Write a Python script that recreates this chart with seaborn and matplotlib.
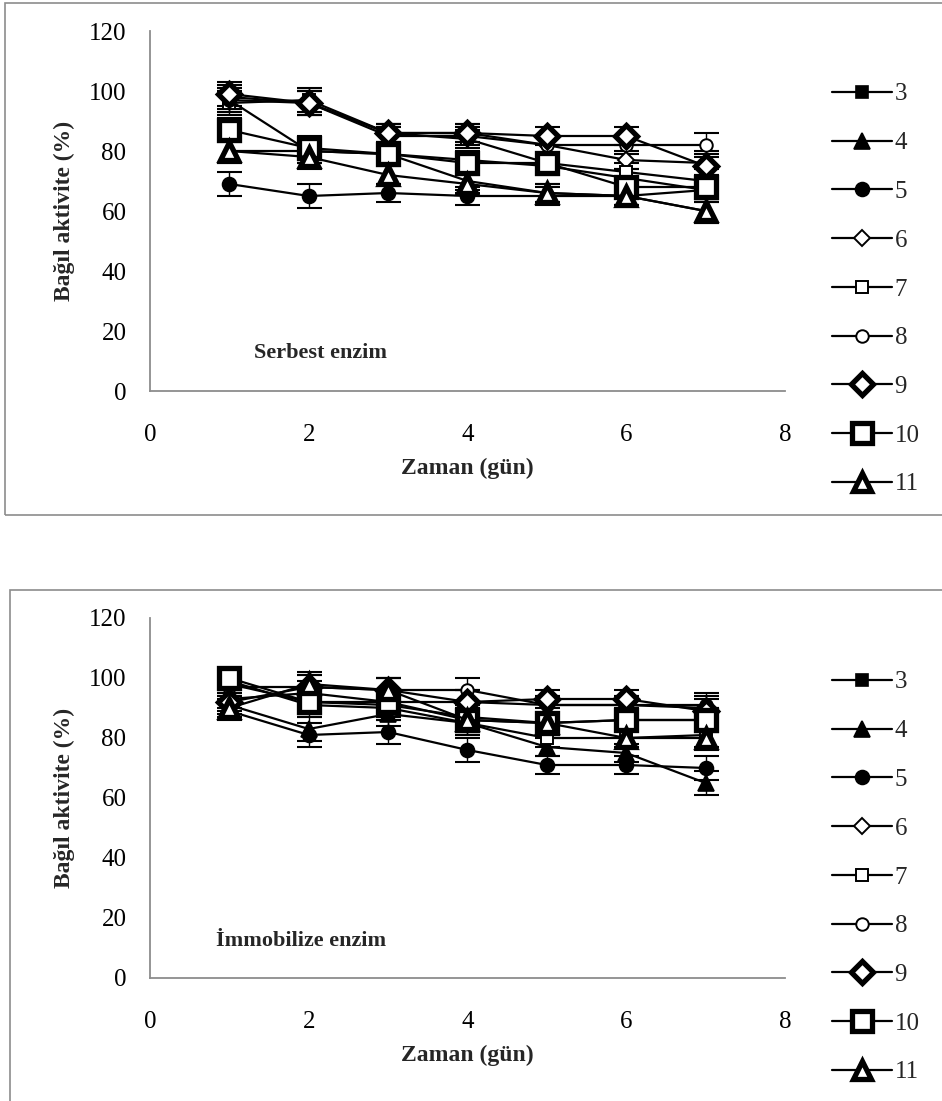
import numpy as np
import pandas as pd
import matplotlib
matplotlib.use("Agg")
import matplotlib.pyplot as plt
from matplotlib.patches import Rectangle
import seaborn as sns

days = [1, 2, 3, 4, 5, 6, 7]
series_names = ["3", "4", "5", "6", "7", "8", "9", "10", "11"]

# Serbest enzim
free_3 = [97, 80, 79, 77, 75, 71, 67]
free_4 = [80, 80, 79, 70, 66, 65, 60]
free_5 = [69, 65, 66, 65, 65, 65, 67]
free_6 = [98, 96, 85, 85, 82, 77, 76]
free_7 = [96, 97, 86, 84, 76, 73, 70]
free_8 = [97, 96, 86, 86, 82, 82, 82]
free_9 = [99, 96, 86, 86, 85, 85, 75]
free_10 = [87, 81, 79, 76, 76, 68, 68]
free_11 = [80, 78, 72, 69, 66, 65, 60]
free_err = [4, 4, 3, 3, 3, 3, 4]

# İmmobilize enzim
imm_3 = [98, 92, 91, 87, 85, 86, 86]
imm_4 = [91, 83, 88, 85, 77, 75, 65]
imm_5 = [89, 81, 82, 76, 71, 71, 70]
imm_6 = [93, 95, 92, 92, 91, 91, 90]
imm_7 = [99, 91, 90, 85, 80, 80, 81]
imm_8 = [97, 97, 96, 96, 91, 91, 91]
imm_9 = [92, 97, 96, 92, 93, 93, 89]
imm_10 = [100, 92, 92, 86, 85, 86, 86]
imm_11 = [90, 98, 96, 86, 85, 80, 80]
imm_err = [3, 4, 4, 4, 3, 3, 4]

free = [free_3, free_4, free_5, free_6, free_7, free_8, free_9, free_10, free_11]
imm = [imm_3, imm_4, imm_5, imm_6, imm_7, imm_8, imm_9, imm_10, imm_11]

styles = {
    "3": dict(marker="s", ms=9, mfc="black", mew=1.2),
    "4": dict(marker="^", ms=12, mfc="black", mew=1.2),
    "5": dict(marker="o", ms=10, mfc="black", mew=1.2),
    "6": dict(marker="D", ms=8, mfc="white", mew=1.4),
    "7": dict(marker="s", ms=9, mfc="white", mew=1.4),
    "8": dict(marker="o", ms=9, mfc="white", mew=1.4),
    "9": dict(marker="D", ms=11, mfc="white", mew=3.8),
    "10": dict(marker="s", ms=14, mfc="white", mew=3.8),
    "11": dict(marker="^", ms=13, mfc="white", mew=3.8),
}

sns.set_style("white")
plt.rcParams["font.family"] = ["Liberation Serif", "DejaVu Serif"]

fig = plt.figure(figsize=(9.42, 11.01), dpi=100)

# chart frames
gray = "#8c8c8c"
fig.patches.append(Rectangle((5 / 942, 1 - 515 / 1101), 1.2, 512 / 1101,
                             transform=fig.transFigure, fill=False,
                             edgecolor=gray, lw=1.2))
fig.patches.append(Rectangle((10 / 942, -0.1), 1.2, 0.1 + 1 - 590 / 1101,
                             transform=fig.transFigure, fill=False,
                             edgecolor=gray, lw=1.2))


def panel(ax, data, err, title, title_xy):
    for name, vals in zip(series_names, data):
        st = styles[name]
        ax.errorbar(days, vals, yerr=err, fmt="none", ecolor="black",
                    elinewidth=1.0, capsize=9, capthick=1.5, zorder=2)
        df = pd.DataFrame({"day": days, "val": vals})
        sns.lineplot(data=df, x="day", y="val", ax=ax, color="black", lw=1.6,
                     marker=st["marker"], markersize=st["ms"],
                     markerfacecolor=st["mfc"], markeredgecolor="black",
                     markeredgewidth=st["mew"], label=name, zorder=3,
                     legend=False)
    ax.set_xlim(0, 8)
    ax.set_ylim(0, 120)
    ax.set_xticks([0, 2, 4, 6, 8])
    ax.set_yticks(range(0, 121, 20))
    for s in ["top", "right"]:
        ax.spines[s].set_visible(False)
    for s in ["left", "bottom"]:
        ax.spines[s].set_color(gray)
        ax.spines[s].set_linewidth(1.3)
    ax.tick_params(axis="both", direction="out", length=6, width=1.2,
                   color=gray, labelsize=18, labelcolor="black")
    ax.tick_params(axis="y", pad=11)
    ax.tick_params(axis="x", pad=18)
    ax.set_xlabel("Zaman (gün)", fontsize=17, fontweight="bold", labelpad=8)
    ax.set_ylabel("Bağıl aktivite (%)", fontsize=17, fontweight="bold",
                  labelpad=10)
    ax.text(title_xy[0], title_xy[1], title, fontsize=16, fontweight="bold",
            ha="center", va="center")
    ax.patch.set_alpha(0)


ax1 = fig.add_axes([150 / 942, 1 - 391 / 1101, 635 / 942, 360 / 1101])
panel(ax1, free, free_err, "Serbest enzim", (2.15, 12.5))

ax2 = fig.add_axes([150 / 942, 1 - 978 / 1101, 635 / 942, 360 / 1101])
panel(ax2, imm, imm_err, "İmmobilize enzim", (1.9, 12.5))

for ax, top in [(ax1, 73), (ax2, 661)]:
    handles, labels = ax.get_legend_handles_labels()
    fig.legend(handles, labels, loc="upper left",
               bbox_to_anchor=(822 / 942, 1 - top / 1101),
               frameon=False, fontsize=18, handlelength=2.4,
               handletextpad=0.1, labelspacing=1.05, borderaxespad=0)

fig.savefig("out.png", dpi=100)
